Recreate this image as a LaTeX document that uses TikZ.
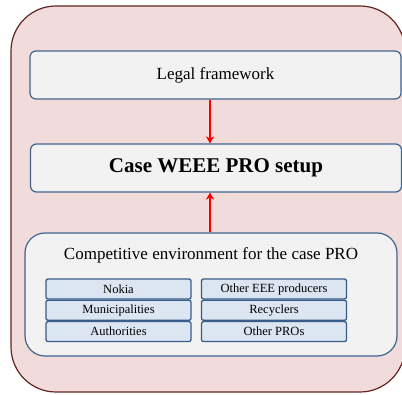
\documentclass[tikz,border=0pt]{standalone}
\usepackage{fontspec}
\setmainfont{Liberation Serif}
\usetikzlibrary{arrows.meta,positioning}
\definecolor{weFrame}{HTML}{F2DCDB}
\definecolor{weFrameLine}{HTML}{632523}
\definecolor{weBox}{HTML}{F2F2F2}
\definecolor{weLine}{HTML}{41648F}
\definecolor{weCell}{HTML}{DCE6F2}
\definecolor{weCellLine}{HTML}{385D8A}
\tikzset{
  wenode/.style={
    draw=weLine, fill=weBox, line width=1.2pt, rounded corners=6pt,
    align=center, inner sep=0pt
  },
  bigbox/.style={wenode, minimum width=371pt, minimum height=48pt},
  envbox/.style={wenode, rounded corners=20pt, minimum width=372pt, minimum height=123pt},
  cell/.style={
    draw=weCellLine, fill=weCell, line width=1.3pt, rounded corners=2pt,
    minimum width=145pt, minimum height=20pt, inner sep=0pt,
    font=\fontsize{12.5}{14}\selectfont
  },
  push/.style={-{Stealth[length=7pt, width=8pt, inset=2pt]}, red, line width=1.6pt}
}
\begin{document}
\begin{tikzpicture}[x=1pt, y=-1pt, node distance=0pt]
  \useasboundingbox (0,0) rectangle (402,395);
  \clip (0,0) rectangle (402,395);
  % outer frame
  \draw[fill=weFrame, draw=weFrameLine, line width=1.2pt, rounded corners=45pt]
    (11,6) rectangle (405,392);
  \node[bigbox, font=\fontsize{17}{20}\selectfont] (legal) at (215.5,75) {Legal framework};
  \node[bigbox, font=\fontsize{21}{24}\selectfont\bfseries] (setup) at (216,168) {Case WEEE PRO setup};
  \node[envbox] (env) at (211,294.5) {};
  \node[font=\fontsize{17}{20}\selectfont] (envtitle) at (211,255) {Competitive environment for the case PRO};
  % left column
  \node[cell] (nokia) at (118.5,289) {Nokia};
  \node[cell, below=of nokia] (munic) {Municipalities};
  \node[cell, below=of munic] (auth) {Authorities};
  % right column
  \node[cell] (eee) at (274,289) {Other EEE producers};
  \node[cell, below=of eee] (recyc) {Recyclers};
  \node[cell, below=of recyc] (opros) {Other PROs};
  % arrows
  \draw[push] (legal.south -| 210,0) -- (setup.north -| 210,0);
  \draw[push] (env.north -| 210,0) -- (setup.south -| 210,0);
\end{tikzpicture}
\end{document}
